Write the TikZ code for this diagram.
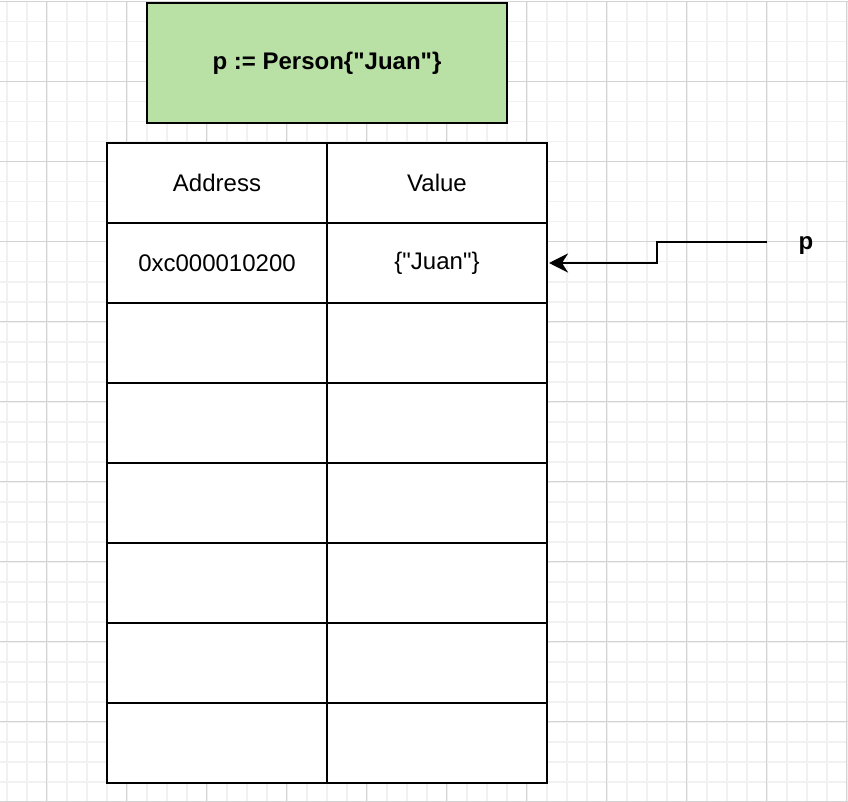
\documentclass[tikz,border=0pt]{standalone}
\usepackage{fontspec}
\setmainfont{Liberation Sans}[Ligatures=TeXOff]
\usetikzlibrary{arrows.meta}
\definecolor{gridminor}{HTML}{F1F1F1}
\definecolor{gridmajor}{HTML}{D3D3D3}
\definecolor{boxgreen}{HTML}{B9E0A5}
\tikzset{
  cell/.style={draw=black, line width=2pt, fill=white, minimum width=220pt, minimum height=80pt, inner sep=0pt, font=\fontsize{24}{28}\selectfont},
  titlebox/.style={draw=black, line width=2pt, fill=boxgreen, minimum width=360pt, minimum height=120pt, inner sep=0pt, font=\bfseries\fontsize{24}{28}\selectfont},
  plabel/.style={font=\bfseries\fontsize{24}{28}\selectfont, inner sep=0pt},
  ptr/.style={draw=black, line width=2pt, -{Stealth[length=19pt, width=19pt, inset=6pt]}}
}
\begin{document}
\begin{tikzpicture}[x=1pt,y=-1pt]
\useasboundingbox (0,0) rectangle (848,802);
\fill[white] (0,0) rectangle (848,802);
% minor grid
\foreach \gx in {6.7,26.7,...,848} {\draw[gridminor, line width=1.6pt] (\gx,1.7) -- (\gx,802);}
\foreach \gy in {1.7,21.7,...,802} {\draw[gridminor, line width=1.6pt] (0,\gy) -- (848,\gy);}
% major grid
\foreach \gx in {46.7,126.7,...,848} {\draw[gridmajor, line width=1pt] (\gx,1.7) -- (\gx,802);}
\foreach \gy in {1.7,81.7,...,802} {\draw[gridmajor, line width=1pt] (0,\gy) -- (848,\gy);}
% title
\node[titlebox] (title) at (327,63) {p := Person\{"Juan"\}};
% table
\node[cell] (a0) at (217,183) {Address};
\node[cell] (v0) at (437,183) {Value};
\node[cell] (a1) at (217,263) {0xc000010200};
\node[cell] (v1) at (437,263) {\{"Juan"\}};
\foreach \r/\yy in {2/343,3/423,4/503,5/583,6/663,7/743} {
  \node[cell] (a\r) at (217,\yy) {};
  \node[cell] (v\r) at (437,\yy) {};
}
% pointer
\node[plabel] (p) at (806,246) {p};
\coordinate (pstart) at (767,242);
\draw[ptr] (pstart) -- (657,242) -- (657,263) -- ([xshift=1pt]v1.east);
\end{tikzpicture}
\end{document}
